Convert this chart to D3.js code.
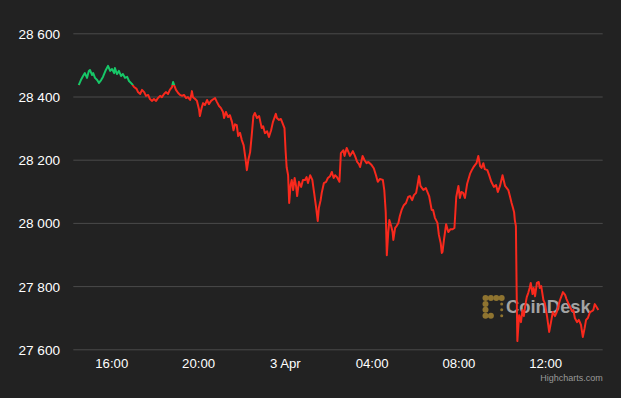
<!DOCTYPE html>
<html>
<head>
<meta charset="utf-8">
<script src="https://cdn.jsdelivr.net/npm/d3@7"></script>
<style>
html,body{margin:0;padding:0;background:#222;}
svg{display:block;}
</style>
</head>
<body>
<script>
// BTC/USD, 2 Apr 14:30 -> 3 Apr 14:30, minutes after start
const startTime = new Date(2023, 3, 2, 14, 30)

const minutes = [0,6,12,17,23,28,31,37,40,45,51,56,62,67,75,81,87,92,98,100,
 106,111,117,122,128,134,139,147,153,160,164,170,175,181,186,192,197,203,208,214,
 219,225,230,236,241,247,252,258,261,265,269,275,280,286,291,297,302,308,311,313,
 316,322,327,333,335,340,344,349,355,360,366,373,377,382,388,393,399,402,407,413,
 418,424,428,432,437,441,446,451,456,461,465,469,474,478,483,487,493,499,506,510,
 515,521,526,532,537,545,548,554,559,566,569,572,575,579,582,586,589,593,597,601,
 604,609,615,620,626,630,634,640,646,651,656,661,664,669,672,678,684,689,695,700,
 705,709,714,721,725,732,735,741,746,750,758,764,770,775,778,785,790,796,801,810,
 816,822,827,833,841,845,849,852,856,859,864,868,870,875,879,884,888,893,899,905,
 911,916,922,927,933,937,941,945,953,960,969,976,980,985,992,996,1001,1004,1006,1010,
 1016,1022,1028,1034,1039,1044,1050,1054,1058,1063,1068,1074,1082,1087,1092,1100,1105,1110,1114,1119,
 1123,1130,1135,1141,1148,1154,1159,1165,1172,1179,1188,1193,1197,1201,1204,1206,1209,1211,1213,1216,
 1218,1223,1227,1231,1235,1239,1243,1247,1250,1255,1258,1262,1267,1272,1275,1279,1285,1289,1295,1301,
 1306,1311,1317,1322,1327,1331,1335,1339,1345,1349,1354,1359,1364,1368,1372,1378,1383,1389,1394,1399,
 1403,1408,1414,1419,1423,1427,1432,1437]

const prices = [28436,28452,28465,28474,28459,28481,28484,28468,28474,28459,
 28452,28443,28452,28462,28484,28497,28481,28487,28474,28490,
 28471,28481,28465,28471,28459,28462,28449,28440,28430,
 28424,28414,28408,28421,28414,28402,28405,28392,28386,28392,
 28386,28395,28402,28398,28408,28414,28408,28421,28430,
 28446,28433,28421,28411,28405,28402,28405,28395,28398,28389,
 28402,28417,28398,28392,28386,
 28357,28338,28364,28379,28373,28389,28376,28386,28392,28395,
 28383,28370,28364,28351,28332,28351,28335,28341,28319,28293,28312,28309,
 28275,28285,28262,28246,28205,28167,28199,28224,28272,28338,
 28348,28332,28338,28300,28306,
 28284,28290,28272,28293,28319,28345,28332,28326,28329,28309,28300,
 28230,28176,28151,28063,28120,28136,28104,28142,28117,28085,
 28130,28114,28136,28136,28145,28126,28151,28136,28095,
 28053,28006,28047,28072,28095,28126,28130,28142,28148,28161,
 28142,28151,28145,28130,
 28221,28230,28212,28237,28224,28212,28227,28212,28193,28186,
 28177,28212,28199,28189,28193,28183,28173,28151,28130,28139,28136,
 28104,28034,27898,27971,28009,27990,27971,27946,27984,27990,
 28000,28022,28041,28056,28063,28082,28085,28072,28088,28095,
 28120,28148,28117,28104,28110,28085,28041,28041,28016,28000,
 27962,27936,27905,27908,27946,27996,27971,27980,27980,27984,
 28082,28117,28079,28098,28095,28079,28123,28155,28167,28177,
 28189,28212,28180,28174,28189,28170,28167,28151,28130,28114,
 28120,28098,28117,
 28151,28117,28104,28082,28063,28047,28034,28009,27990,
 27788,27626,27677,27708,27686,27724,27705,27740,27765,27778,
 27794,27810,27775,27794,27768,27810,27813,27794,27800,
 27756,27746,27705,27655,27686,27718,27705,27718,27740,27756,
 27768,27781,27772,27759,27746,27734,27721,27724,27699,27686,
 27693,27677,27639,27667,27693,27699,27718,27721,27724,27743,
 27734,27724]

const yTicks = [27600, 27800, 28000, 28200, 28400, 28600]

const w = 621
const h = 398
const plotL = 73.3, plotR = 602.7, plotT = 33.3, plotB = 349.3

const data = minutes.map((m, i) => ({ t: d3.timeMinute.offset(startTime, m), v: prices[i] }))
const threshold = prices[0]

const xscale = d3.scaleTime()
  .domain([new Date(2023, 3, 2, 14, 15), new Date(2023, 3, 3, 14, 39)])
  .range([plotL, plotR])

const yscale = d3.scaleLinear()
  .domain([27600, 28600])
  .range([plotB, plotT])

const loc = d3.formatLocale({ decimal: ".", thousands: " ", grouping: [3], currency: ["", ""] })
const yfmt = loc.format(",")
const xfmt = d => d.getHours() === 0 ? d3.timeFormat("%-d %b")(d) : d3.timeFormat("%H:%M")(d)

const svg = d3.select("body").append("svg")
  .attr("width", w)
  .attr("height", h)
  .style("font-family", '"Liberation Sans", Arial, Helvetica, sans-serif')

svg.append("rect").attr("width", w).attr("height", h).attr("fill", "#222")

// y axis + grid
const yAxis = d3.axisLeft(yscale)
  .tickValues(yTicks)
  .tickSize(-(plotR - plotL))
  .tickPadding(13.3)
  .tickFormat(yfmt)

const gy = svg.append("g")
  .attr("transform", "translate(" + plotL + ",0)")
  .call(yAxis)
gy.select(".domain").remove()
gy.selectAll("line").attr("stroke", "#4a4a4a").attr("stroke-width", 1)
gy.selectAll("text")
  .attr("fill", "#fff")
  .attr("font-size", 13.6)
  .attr("dy", "0.36em")
gy.attr("font-family", null).attr("font-size", null)

// x axis
const xAxis = d3.axisBottom(xscale)
  .ticks(d3.timeHour.every(4))
  .tickSize(0)
  .tickPadding(9.6)
  .tickFormat(xfmt)

const gx = svg.append("g")
  .attr("transform", "translate(0," + plotB + ")")
  .call(xAxis)
gx.select(".domain").remove()
gx.selectAll("text").attr("fill", "#fff").attr("font-size", 13.2)
gx.attr("font-family", null).attr("font-size", null)

// watermark
const wm = svg.append("g")
const logoDots = [[0,0,3],[1,0,3],[2,0,3],[3,0,3],[0,1,3],[3,1,1.5],[0,2,3],[3,2,1.5],[0,3,3],[1,3,3],[3,3,1.5]]
wm.selectAll("circle")
  .data(logoDots)
  .enter()
  .append("circle")
  .attr("cx", d => 485.5 + d[0] * 5.4)
  .attr("cy", d => 298 + d[1] * 5.9)
  .attr("r", d => d[2])
  .attr("fill", "#8f7430")
wm.append("text")
  .attr("x", 506)
  .attr("y", 313)
  .attr("font-size", 18.4)
  .attr("font-weight", "bold")
  .attr("fill", "#a3a3a3")
  .text("CoinDesk")

// line with zones
const line = d3.line().x(d => xscale(d.t)).y(d => yscale(d.v))
const defs = svg.append("defs")
defs.append("clipPath").attr("id", "above")
  .append("rect").attr("x", 0).attr("y", 0).attr("width", w).attr("height", yscale(threshold))
defs.append("clipPath").attr("id", "below")
  .append("rect").attr("x", 0).attr("y", yscale(threshold)).attr("width", w).attr("height", h)

svg.append("path")
  .datum(data)
  .attr("d", line)
  .attr("fill", "none")
  .attr("stroke", "#f8291d")
  .attr("stroke-width", 2)
  .attr("stroke-linejoin", "round")
  .attr("clip-path", "url(#below)")

svg.append("path")
  .datum(data)
  .attr("d", line)
  .attr("fill", "none")
  .attr("stroke", "#17c768")
  .attr("stroke-width", 2)
  .attr("stroke-linejoin", "round")
  .attr("clip-path", "url(#above)")

// credit
svg.append("text")
  .attr("x", 602.7)
  .attr("y", 380.5)
  .attr("text-anchor", "end")
  .attr("font-size", 9)
  .attr("fill", "#999")
  .text("Highcharts.com")
</script>
</body>
</html>
